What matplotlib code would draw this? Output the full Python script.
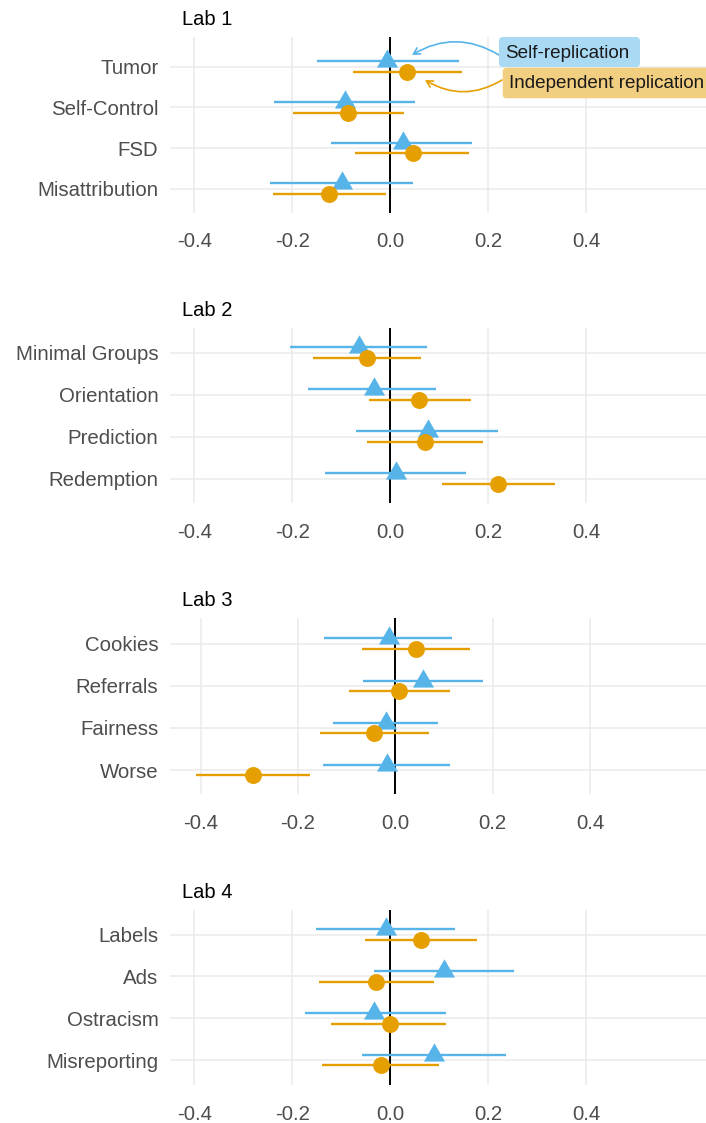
import matplotlib
matplotlib.use('Agg')
import matplotlib.pyplot as plt
from matplotlib.transforms import Affine2D
from matplotlib.patches import FancyBboxPatch

W, H = 706, 1123
FONT = ['Liberation Sans', 'DejaVu Sans']
plt.rcParams['font.family'] = FONT

BLUE = '#56B4E9'
ORANGE = '#E69F00'
GRID = '#EBEBEB'
TXT = '#4D4D4D'

# ---------------- data ----------------
lab_titles = ['Lab 1', 'Lab 2', 'Lab 3', 'Lab 4']
x_ticks = [-0.4, -0.2, 0.0, 0.2, 0.4]
x_tick_labels = ['-0.4', '-0.2', '0.0', '0.2', '0.4']

lab1_studies = ['Tumor', 'Self-Control', 'FSD', 'Misattribution']
lab1_self_est = [-0.006, -0.093, 0.027, -0.098]
lab1_self_lo = [-0.150, -0.237, -0.120, -0.245]
lab1_self_hi = [0.140, 0.050, 0.167, 0.046]
lab1_ind_est = [0.034, -0.086, 0.046, -0.125]
lab1_ind_lo = [-0.076, -0.199, -0.072, -0.240]
lab1_ind_hi = [0.146, 0.028, 0.161, -0.009]

lab2_studies = ['Minimal Groups', 'Orientation', 'Prediction', 'Redemption']
lab2_self_est = [-0.064, -0.033, 0.078, 0.011]
lab2_self_lo = [-0.205, -0.167, -0.070, -0.134]
lab2_self_hi = [0.075, 0.094, 0.221, 0.154]
lab2_ind_est = [-0.047, 0.059, 0.072, 0.221]
lab2_ind_lo = [-0.157, -0.044, -0.048, 0.106]
lab2_ind_hi = [0.063, 0.165, 0.189, 0.336]

lab3_studies = ['Cookies', 'Referrals', 'Fairness', 'Worse']
lab3_self_est = [-0.013, 0.057, -0.019, -0.018]
lab3_self_lo = [-0.147, -0.066, -0.128, -0.149]
lab3_self_hi = [0.116, 0.181, 0.088, 0.112]
lab3_ind_est = [0.042, 0.008, -0.044, -0.292]
lab3_ind_lo = [-0.068, -0.096, -0.154, -0.410]
lab3_ind_hi = [0.154, 0.112, 0.069, -0.175]

lab4_studies = ['Labels', 'Ads', 'Ostracism', 'Misreporting']
lab4_self_est = [-0.009, 0.110, -0.032, 0.089]
lab4_self_lo = [-0.152, -0.032, -0.174, -0.058]
lab4_self_hi = [0.133, 0.253, 0.114, 0.236]
lab4_ind_est = [0.062, -0.028, -0.001, -0.018]
lab4_ind_lo = [-0.052, -0.146, -0.121, -0.140]
lab4_ind_hi = [0.178, 0.090, 0.114, 0.099]

series_labels = ['Self-replication', 'Independent replication']

panels = [
    (lab1_studies, lab1_self_est, lab1_self_lo, lab1_self_hi, lab1_ind_est, lab1_ind_lo, lab1_ind_hi),
    (lab2_studies, lab2_self_est, lab2_self_lo, lab2_self_hi, lab2_ind_est, lab2_ind_lo, lab2_ind_hi),
    (lab3_studies, lab3_self_est, lab3_self_lo, lab3_self_hi, lab3_ind_est, lab3_ind_lo, lab3_ind_hi),
    (lab4_studies, lab4_self_est, lab4_self_lo, lab4_self_hi, lab4_ind_est, lab4_ind_lo, lab4_ind_hi),
]

# ---------------- layout (pixels, top-origin) ----------------
# top, bottom, first category y, last category y, x of -0.4, x of 0.4
layout = [
    (36.7, 212.7, 66.7, 188.7, 194.3, 586.0),
    (328.3, 503.3, 352.7, 478.7, 194.3, 586.0),
    (618.3, 794.0, 643.7, 770.0, 200.7, 590.0),
    (910.0, 1085.0, 934.7, 1060.0, 194.3, 586.0),
]
LEFT, RIGHT = 170, 706

fig = plt.figure(figsize=(W / 100, H / 100), dpi=100)
fig.patch.set_facecolor('white')
T = Affine2D().scale(1 / W, -1 / H).translate(0, 1) + fig.transFigure

tri = [(0, 1), (-0.866, -0.5), (0.866, -0.5)]

axes = []
for (studies, s_est, s_lo, s_hi, i_est, i_lo, i_hi), (top, bot, c0, c3, xm, xp), title in zip(panels, layout, lab_titles):
    ax = fig.add_axes([LEFT / W, 1 - bot / H, (RIGHT - LEFT) / W, (bot - top) / H])
    axes.append(ax)
    ux = (xp - xm) / 0.8
    zero = xm + 0.4 * ux
    ax.set_xlim((LEFT - zero) / ux, (RIGHT - zero) / ux)
    uy = (c3 - c0) / 3
    ax.set_ylim(3 + (bot - c3) / uy, -(c0 - top) / uy)
    off = 5.3 / uy
    ys = list(range(len(studies)))

    ax.set_xticks(x_ticks)
    ax.set_xticklabels(x_tick_labels)
    ax.set_yticks(ys)
    ax.set_yticklabels(studies)
    ax.tick_params(length=0, labelsize=14.7, labelcolor=TXT)
    ax.tick_params(axis='y', pad=8.3)
    ax.tick_params(axis='x', pad=14.2)
    for s in ax.spines.values():
        s.set_visible(False)
    ax.grid(True, color=GRID, lw=1.1, zorder=0)
    ax.set_axisbelow(True)
    ax.axvline(0, color='black', lw=1.4, zorder=2)

    for k, y in enumerate(ys):
        ax.plot([s_lo[k], s_hi[k]], [y - off, y - off], color=BLUE, lw=1.7, solid_capstyle='butt', zorder=3)
    ax.plot(s_est, [y - off for y in ys], linestyle='none', marker=tri, ms=17.5, color=BLUE, mec='none', zorder=4)
    for k, y in enumerate(ys):
        ax.plot([i_lo[k], i_hi[k]], [y + off, y + off], color=ORANGE, lw=1.7, solid_capstyle='butt', zorder=5)
    ax.plot(i_est, [y + off for y in ys], linestyle='none', marker='o', ms=12.2, color=ORANGE, mec='none', zorder=6)

    fig.text(181.5, top - 17.5, title, transform=T, ha='left', va='center', fontsize=14.5, color='black')

# ---------------- annotations (Lab 1) ----------------
blue_box = FancyBboxPatch((499, 37), 141, 30, boxstyle='round,pad=0,rounding_size=4',
                          transform=T, fc='#AAD9F4', ec='none', zorder=7)
orange_box = FancyBboxPatch((502.7, 67.7), 220, 30.6, boxstyle='round,pad=0,rounding_size=4',
                            transform=T, fc='#F2CE80', ec='none', zorder=7)
fig.add_artist(blue_box)
fig.add_artist(orange_box)
fig.text(505, 53, series_labels[0], transform=T, ha='left', va='center', fontsize=13.6, color='#1A1A1A', zorder=8)
fig.text(509, 84, series_labels[1], transform=T, ha='left', va='center', fontsize=13.6, color='#1A1A1A', zorder=8)

axes[0].annotate('', xy=(412, 55), xytext=(499, 55), xycoords=T, textcoords=T,
                 arrowprops=dict(arrowstyle='->,head_length=0.45,head_width=0.25', color=BLUE, lw=1.2,
                                 connectionstyle='arc3,rad=0.3', shrinkA=0, shrinkB=0),
                 annotation_clip=False)
axes[0].annotate('', xy=(425, 80), xytext=(502, 80), xycoords=T, textcoords=T,
                 arrowprops=dict(arrowstyle='->,head_length=0.45,head_width=0.25', color=ORANGE, lw=1.2,
                                 connectionstyle='arc3,rad=-0.3', shrinkA=0, shrinkB=0),
                 annotation_clip=False)

fig.savefig('out.png', dpi=100, facecolor='white')
